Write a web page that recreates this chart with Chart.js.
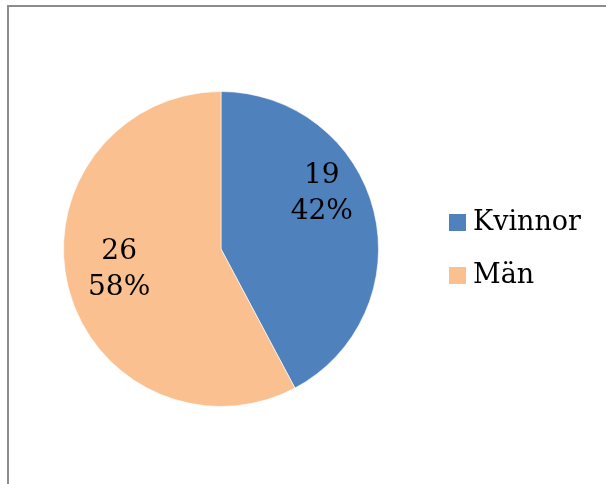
<!DOCTYPE html>
<html>
<head>
<meta charset="utf-8">
<script src="https://cdn.jsdelivr.net/npm/chart.js@4.4.0/dist/chart.umd.min.js"></script>
<style>
    html, body { margin: 0; padding: 0; background: #fff; overflow: hidden; }
    #wrap { position: relative; width: 606px; height: 484px; }
    #frame {
        position: absolute; left: 7px; top: 5px; width: 800px; height: 700px;
        border-left: 2px solid #8c8c8c; border-top: 2px solid #8c8c8c;
    }
    #pieChart { position: absolute; left: 0; top: 0; }
</style>
</head>
<body>
<div id="wrap">
    <div id="frame"></div>
    <canvas id="pieChart" width="606" height="484"></canvas>
</div>
<script>
const categories = ['Kvinnor', 'Män'];
const counts = [19, 26];
const colors = ['#4f81bd', '#fac090'];

const fontFamily = '"DejaVu Serif", "Liberation Serif", serif';

// Etiquetas dentro de cada porción: valor y porcentaje
const sliceLabels = {
    id: 'sliceLabels',
    afterDatasetsDraw(chart, args, opts) {
        const ctx = chart.ctx;
        const meta = chart.getDatasetMeta(0);
        const data = chart.data.datasets[0].data;
        const total = data.reduce((a, b) => a + b, 0);
        ctx.save();
        ctx.font = opts.size + 'px ' + fontFamily;
        ctx.fillStyle = '#000';
        ctx.textAlign = 'center';
        ctx.textBaseline = 'middle';
        meta.data.forEach((arc, i) => {
            const p = arc.getProps(['x', 'y', 'startAngle', 'endAngle', 'outerRadius'], true);
            const mid = (p.startAngle + p.endAngle) / 2;
            const r = p.outerRadius * opts.radiusFactor;
            const nudge = opts.nudge[i] || { dx: 0, dy: 0 };
            const cx = p.x + Math.cos(mid) * r + nudge.dx;
            const cy = p.y + Math.sin(mid) * r + nudge.dy;
            const pct = Math.round(data[i] / total * 100) + '%';
            ctx.fillText(String(data[i]), cx, cy - opts.lineGap / 2);
            ctx.fillText(pct, cx, cy + opts.lineGap / 2);
        });
        ctx.restore();
    }
};

// Leyenda dibujada a mano a la derecha
const sideLegend = {
    id: 'sideLegend',
    afterDraw(chart, args, opts) {
        const ctx = chart.ctx;
        ctx.save();
        ctx.font = opts.size + 'px ' + fontFamily;
        ctx.textBaseline = 'middle';
        ctx.textAlign = 'left';
        chart.data.labels.forEach((label, i) => {
            const y = opts.top + i * opts.rowGap;
            ctx.fillStyle = chart.data.datasets[0].backgroundColor[i];
            ctx.fillRect(opts.left, y - opts.box / 2, opts.box, opts.box);
            ctx.fillStyle = '#000';
            ctx.fillText(label, opts.left + opts.box + 7, y);
        });
        ctx.restore();
    }
};

new Chart(document.getElementById('pieChart').getContext('2d'), {
    type: 'pie',
    data: {
        labels: categories,
        datasets: [
            {
                data: counts,
                backgroundColor: colors,
                borderColor: 'rgba(255,255,255,0.6)',
                borderWidth: 1,
            },
        ],
    },
    options: {
        responsive: false,
        animation: false,
        layout: {
            padding: { left: 63, top: 91, right: 227, bottom: 77 },
        },
        plugins: {
            legend: { display: false },
            tooltip: { enabled: false },
            sliceLabels: {
                size: 28,
                radiusFactor: 0.66,
                lineGap: 36,
                nudge: [{ dx: 0, dy: -30 }, { dx: -1, dy: -4 }],
            },
            sideLegend: { left: 449, top: 222.5, rowGap: 53, box: 17, size: 27 },
        },
    },
    plugins: [sliceLabels, sideLegend],
});
</script>
</body>
</html>
